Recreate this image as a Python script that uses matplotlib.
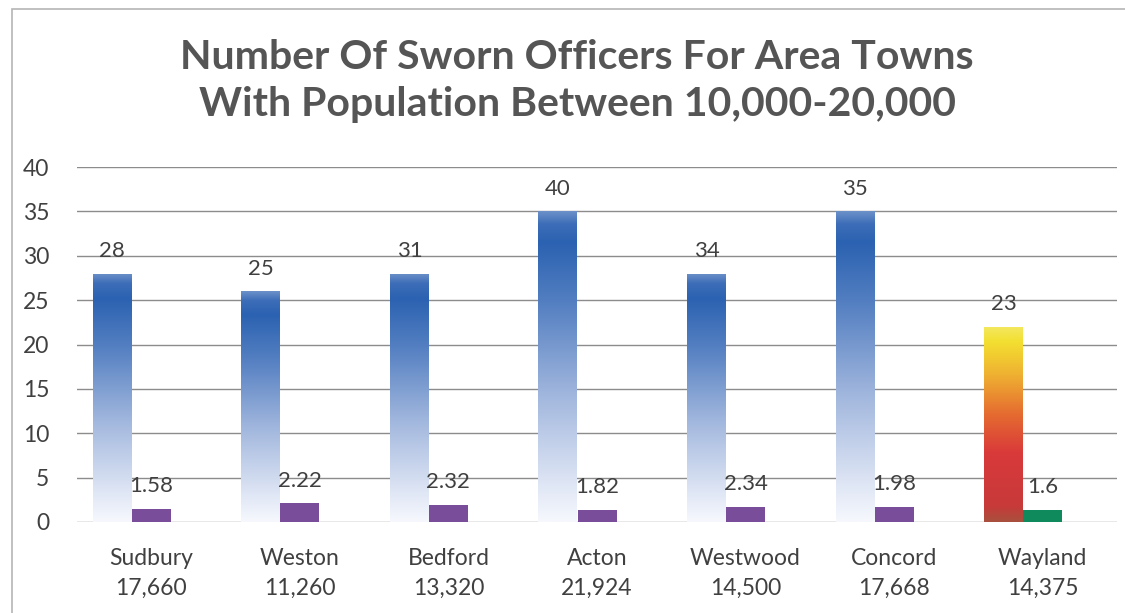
import matplotlib
matplotlib.use("Agg")
import matplotlib.pyplot as plt
import numpy as np
from matplotlib.colors import LinearSegmentedColormap
from matplotlib.patches import Rectangle

# --- data ---
towns = ["Sudbury", "Weston", "Bedford", "Acton", "Westwood", "Concord", "Wayland"]
populations = ["17,660", "11,260", "13,320", "21,924", "14,500", "17,668", "14,375"]
# heights the bars are actually drawn at, and the numbers printed above them
officers_bar = [28, 26, 28, 35, 28, 35, 22]
officers_label = ["28", "25", "31", "40", "34", "35", "23"]
per_1000_bar = [1.5, 2.1, 1.9, 1.35, 1.7, 1.7, 1.35]
per_1000_label = ["1.58", "2.22", "2.32", "1.82", "2.34", "1.98", "1.6"]
highlight = "Wayland"

TEXT = "#404040"
FONT = "Lato"

blue_cmap = LinearSegmentedColormap.from_list("blue", [
    (0.0, "#f6f8fd"), (0.12, "#dfe6f5"), (0.4, "#a3b8de"), (0.7, "#5580c2"),
    (0.9, "#2b62b1"), (0.96, "#3d6db8"), (1.0, "#6b90c8")])
hot_cmap = LinearSegmentedColormap.from_list("hot", [
    (0.0, "#a8503e"), (0.08, "#c83a3a"), (0.35, "#d9393a"), (0.55, "#e56b30"),
    (0.75, "#efb032"), (0.92, "#f3df30"), (1.0, "#f3e860")])

fig = plt.figure(figsize=(11.25, 6.13), dpi=100)
ax = fig.add_axes([77 / 1125, 1 - 522 / 613, 1040 / 1125, 355 / 613])

x = np.arange(len(towns))
w = 0.2625
grad = np.linspace(0, 1, 256).reshape(-1, 1)

big = ax.bar(x - w, officers_bar, width=w, color="none", zorder=3)
small = ax.bar(x, per_1000_bar, width=w, zorder=3,
               color=["#0f8a5c" if t == highlight else "#7a4d9a" for t in towns])

for t, patch in zip(towns, big):
    x0, y0 = patch.get_xy()
    cmap = hot_cmap if t == highlight else blue_cmap
    im = ax.imshow(grad, cmap=cmap, origin="lower", aspect="auto", zorder=3,
                   extent=[x0, x0 + patch.get_width(), y0, y0 + patch.get_height()])
    im.set_clip_path(patch)

for bars, labels in ((big, officers_label), (small, per_1000_label)):
    for patch, lab in zip(bars, labels):
        ax.annotate(lab, (patch.get_x() + patch.get_width() / 2, patch.get_height()),
                    xytext=(0, 12), textcoords="offset points", ha="center",
                    va="baseline", fontsize=16, color=TEXT, family=FONT, zorder=4)

ax.set_xlim(-0.5, len(towns) - 0.5)
ax.set_ylim(0, 40)
ax.set_yticks(range(0, 41, 5))
ax.set_xticks(x)
ax.set_xticklabels([f"{t}\n{p}" for t, p in zip(towns, populations)],
                   linespacing=1.5)
ax.yaxis.grid(True, color="#8c8c8c", lw=1)
ax.set_axisbelow(True)
for s in ax.spines.values():
    s.set_visible(False)
ax.tick_params(length=0, labelsize=16.5, labelcolor=TEXT)
ax.tick_params(axis="x", pad=19)
ax.tick_params(axis="y", pad=20)
for lab in ax.get_xticklabels() + ax.get_yticklabels():
    lab.set_family(FONT)

fig.text(0.513, 1 - 81 / 613,
         "Number Of Sworn Officers For Area Towns\nWith Population Between 10,000-20,000",
         ha="center", va="center", fontsize=29.5, fontweight="bold", color="#555555",
         family=FONT, linespacing=1.32)

# border of the scanned chart area
fig.patches.append(Rectangle((12 / 1125, -0.1), 1.2, 1 - 9 / 613 + 0.1,
                             transform=fig.transFigure, fill=False,
                             ec="#b5b5b5", lw=1.2))

fig.savefig("out.png")
